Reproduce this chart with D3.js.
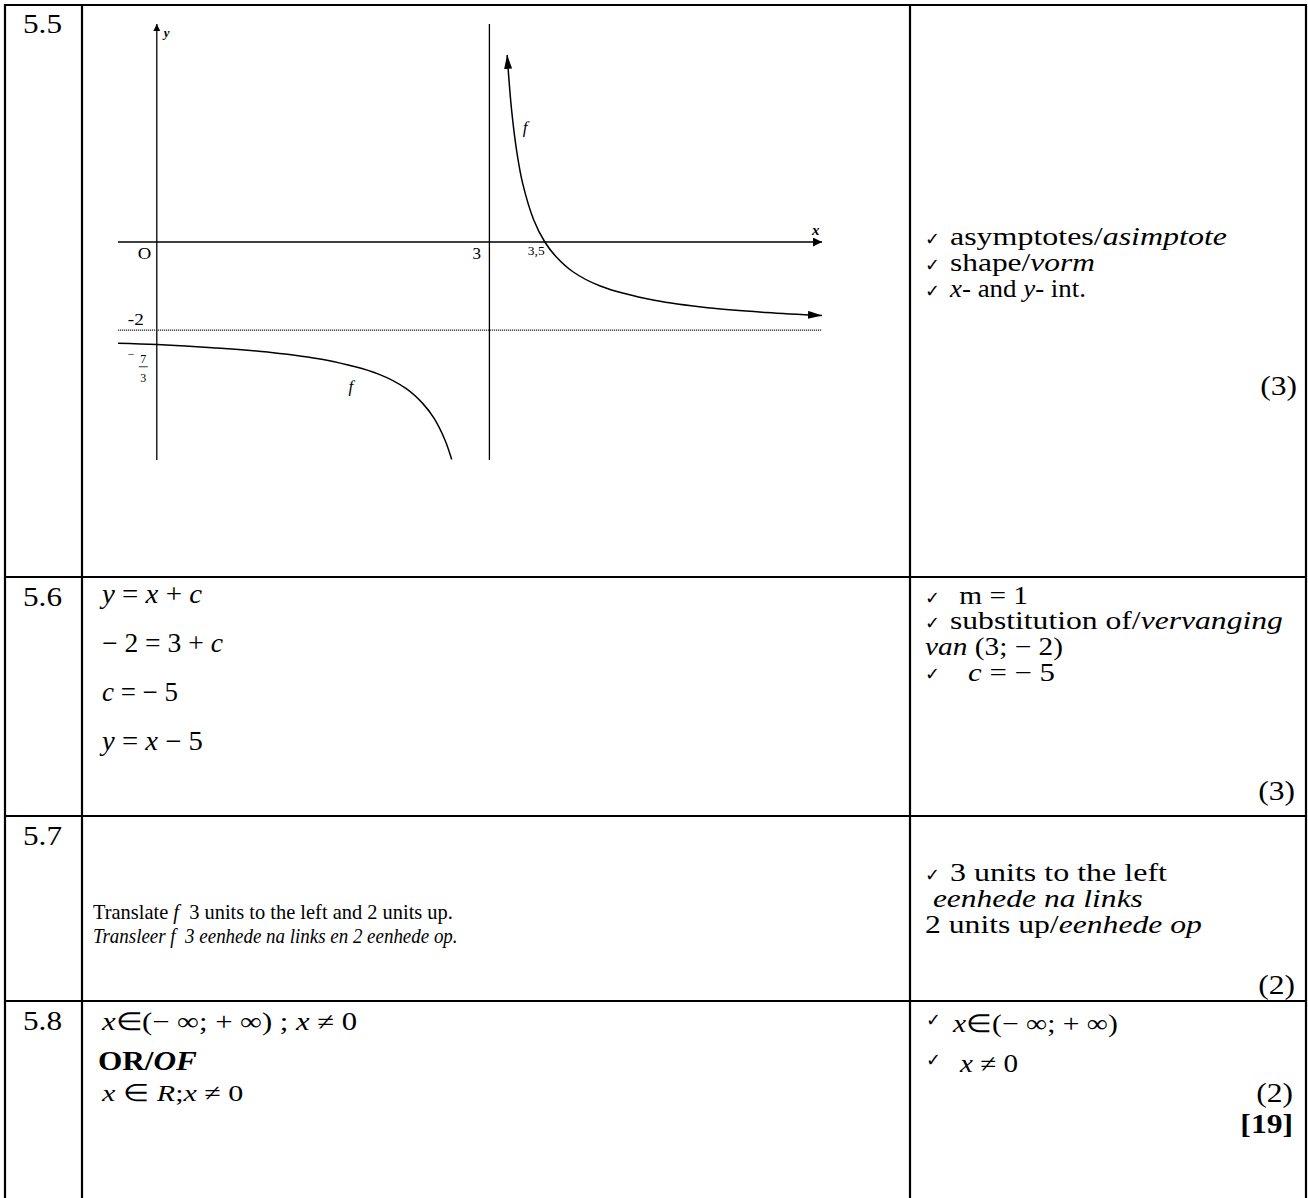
<!DOCTYPE html>
<html><head><meta charset="utf-8">
<script src="https://cdn.jsdelivr.net/npm/d3@7"></script>
<style>html,body{margin:0;padding:0;background:#fff;}svg{display:block;}</style>
</head><body>
<svg id="c" width="1308" height="1198"></svg>
<script>
// ---------- DATA ----------
const rowLabels = ["5.5", "5.6", "5.7", "5.8"];
// f(x) sketch: points (x, y)
const rightBranchX = [3.16, 3.2, 3.25, 3.3, 3.4, 3.5, 3.6, 3.75, 4.0, 4.5, 5.0, 5.5, 6.0];
const rightBranchY = [4.25, 3.0, 2.0, 1.33, 0.5, 0.0, -0.33, -0.67, -1.0, -1.33, -1.5, -1.6, -1.67];
const leftBranchX = [-0.35, 0.0, 0.5, 1.0, 1.5, 2.0, 2.25, 2.4, 2.5, 2.6, 2.66];
const leftBranchY = [-2.30, -2.33, -2.4, -2.5, -2.67, -3.0, -3.33, -3.67, -4.0, -4.5, -4.94];
const vAsymptote = 3;
const hAsymptote = -2;
const xTickValues = [0, 3, 3.5];
const xTickLabels = ["O", "3", "3,5"];
const yTickValues = [-2, -7/3];
const curveLabels = ["f", "f"];
const axisNames = ["x", "y"];
// text content
const marks55 = [
  [["asymptotes/", ""], ["asimptote", "i"]],
  [["shape/", ""], ["vorm", "i"]],
  [["x", "i"], ["- and ", ""], ["y", "i"], ["- int.", ""]]
];
const work56 = [
  [["y", "i"], [" = ", ""], ["x", "i"], [" + ", ""], ["c", "i"]],
  [["− 2 = 3 + ", ""], ["c", "i"]],
  [["c", "i"], [" = − 5", ""]],
  [["y", "i"], [" = ", ""], ["x", "i"], [" − 5", ""]]
];
const marks56 = [
  [[" m = 1", ""]],
  [["substitution of/", ""], ["vervanging", "i"]],
  [["van ", "i"], ["(3; − 2)", ""]],
  [["c", "i"], [" = − 5", ""]]
];
const work57 = [
  [["Translate ", ""], ["f", "i"], ["  3 units to the left and 2 units up.", ""]],
  [["Transleer f  3 eenhede na links en 2 eenhede op.", "i"]]
];
const marks57 = [
  [["3 units to the left", ""]],
  [[" eenhede na links", "i"]],
  [["2 units up/", ""], ["eenhede op", "i"]]
];
const work58 = [
  [["x", "i"], ["∈(− ∞; + ∞) ; ", ""], ["x", "i"], [" ≠ 0", ""]],
  [["OR/", "b"], ["OF", "bi"]],
  [["x", "i"], [" ∈ ", ""], ["R", "i"], [";", ""], ["x", "i"], [" ≠ 0", ""]]
];
const marks58 = [
  [["x", "i"], ["∈(− ∞; + ∞)", ""]],
  [["x", "i"], [" ≠ 0", ""]]
];
const marksTotals = ["(3)", "(3)", "(2)", "(2)", "[19]"];

// ---------- DRAW ----------
const svg = d3.select("#c");
const SERIF = "'Liberation Serif','Times New Roman',Times,serif";
const RS = 25; // right column font size

function put(x, y, parts, o = {}) {
  const t = svg.append("text")
    .attr("font-family", SERIF)
    .attr("font-size", o.size || 27)
    .attr("text-anchor", o.anchor || "start")
    .attr("fill", "#000");
  parts.forEach(([s, st]) => {
    const ts = t.append("tspan").text(s).style("white-space", "pre");
    if (st.includes("i")) ts.attr("font-style", "italic");
    if (st.includes("b")) ts.attr("font-weight", "bold");
  });
  t.attr("xml:space", "preserve");
  let sx = o.sx || 1;
  if (o.w) sx = o.w / t.node().getComputedTextLength();
  t.attr("transform", `translate(${x},${y}) scale(${sx},1)`);
  return t;
}
function check(x, y, size) {
  svg.append("text").attr("x", x).attr("y", y)
    .attr("font-family", "'DejaVu Sans',sans-serif")
    .attr("font-weight", "bold")
    .attr("font-size", size || 18).text("✓");
}

// table grid
const grid = svg.append("g").attr("stroke", "#000").attr("stroke-width", 2.2);
const colX = [5, 82, 910, 1306];
const rowY = [5, 577, 816, 1001];
colX.forEach(x => grid.append("line").attr("x1", x).attr("x2", x).attr("y1", 4).attr("y2", 1198));
rowY.forEach(y => grid.append("line").attr("x1", 4).attr("x2", 1307).attr("y1", y).attr("y2", y));

// row labels
[33, 606, 845, 1030].forEach((y, i) => put(23, y, [[rowLabels[i], ""]], { w: 39 }));

// ---------- graph ----------
const x = d3.scaleLinear().domain([-0.35, 6.0]).range([118, 822]);
const y = d3.scaleLinear().domain([-4.95, 4.95]).range([460, 24]);
const defs = svg.append("defs");
function marker(id, len, wid) {
  defs.append("marker").attr("id", id).attr("markerUnits", "userSpaceOnUse")
    .attr("viewBox", `0 0 ${len} ${wid}`).attr("refX", len).attr("refY", wid / 2)
    .attr("markerWidth", len).attr("markerHeight", wid).attr("orient", "auto-start-reverse")
    .append("path").attr("d", `M0,0L${len},${wid / 2}L0,${wid}Z`).attr("fill", "#000");
}
marker("axArrow", 9, 9);
marker("yArrow", 7, 7);
marker("cvArrow", 14, 8);

const gg = svg.append("g");
// axes
gg.append("line").attr("x1", x(-0.35)).attr("x2", x(6.0)).attr("y1", y(0)).attr("y2", y(0))
  .attr("stroke", "#000").attr("stroke-width", 1.3).attr("marker-end", "url(#axArrow)");
gg.append("line").attr("x1", x(0)).attr("x2", x(0)).attr("y1", y(-4.95)).attr("y2", y(4.95))
  .attr("stroke", "#000").attr("stroke-width", 1.3).attr("marker-end", "url(#yArrow)");
// asymptotes
gg.append("line").attr("x1", x(vAsymptote)).attr("x2", x(vAsymptote)).attr("y1", y(-4.95)).attr("y2", y(4.95))
  .attr("stroke", "#000").attr("stroke-width", 1.3);
gg.append("line").attr("x1", x(-0.35)).attr("x2", x(6.0)).attr("y1", y(hAsymptote)).attr("y2", y(hAsymptote))
  .attr("stroke", "#222").attr("stroke-width", 1.4).attr("stroke-dasharray", "1.2,0.8");

// curve
const lineGen = d3.line().x(d => x(d[0])).y(d => y(d[1])).curve(d3.curveCatmullRom.alpha(0.5));
const rb = rightBranchX.map((v, i) => [v, rightBranchY[i]]);
const lb = leftBranchX.map((v, i) => [v, leftBranchY[i]]);
gg.append("path").attr("d", lineGen(rb)).attr("fill", "none").attr("stroke", "#000").attr("stroke-width", 1.5)
  .attr("marker-start", "url(#cvArrow)").attr("marker-end", "url(#cvArrow)");
gg.append("path").attr("d", lineGen(lb)).attr("fill", "none").attr("stroke", "#000").attr("stroke-width", 1.5);

// tick labels
put(x(xTickValues[0]) - 19, y(0) + 17, [[xTickLabels[0], ""]], { size: 17, sx: 1.1 });
put(x(xTickValues[1]) - 17, y(0) + 17, [[xTickLabels[1], ""]], { size: 17, sx: 1.0 });
put(x(xTickValues[2]) - 17, y(0) + 13, [[xTickLabels[2], ""]], { size: 11.5, sx: 1.17 });
put(x(0) - 29, y(yTickValues[0]) - 5, [["-2", ""]], { size: 16, sx: 1.2 });
// -7/3 fraction
const fy = y(yTickValues[1]) + 22;
put(x(0) - 29, fy - 9, [["−", ""]], { size: 12 });
put(x(0) - 13.5, fy - 3.5, [["7", ""]], { size: 12, anchor: "middle" });
svg.append("line").attr("x1", x(0) - 18).attr("x2", x(0) - 9).attr("y1", fy).attr("y2", fy)
  .attr("stroke", "#000").attr("stroke-width", 0.8);
put(x(0) - 13.5, fy + 15, [["3", ""]], { size: 12, anchor: "middle" });
// axis names
put(x(0) + 7, y(4.95) + 13, [[axisNames[1], "bi"]], { size: 13 });
put(x(6.0) - 10, y(0) - 7, [[axisNames[0], "bi"]], { size: 15 });
// curve labels
put(x(3.3), 133, [[curveLabels[0], "i"]], { size: 17 });
put(x(1.73), 392, [[curveLabels[1], "i"]], { size: 17 });

// ---------- right column texts ----------
// 5.5
[245, 271, 297].forEach(yy => check(925, yy));
put(950, 245, marks55[0], { w: 277, size: RS });
put(950, 271, marks55[1], { w: 145, size: RS });
put(950, 297, marks55[2], { w: 136, size: RS });
put(1297, 395, [[marksTotals[0], ""]], { anchor: "end", sx: 1.17 });

// 5.6 working
put(102, 603, work56[0], { w: 100 });
put(102, 652, work56[1], { w: 121 });
put(102, 701, work56[2], { w: 76 });
put(102, 750, work56[3], { w: 101 });
// 5.6 marks
check(925, 604);
put(952, 604, marks56[0], { w: 76, size: RS });
check(925, 629);
put(950, 629, marks56[1], { w: 333, size: RS });
put(925, 655, marks56[2], { w: 138, size: RS });
check(925, 680);
put(968, 681, marks56[3], { w: 87, size: RS });
put(1295, 800, [[marksTotals[1], ""]], { anchor: "end", sx: 1.17 });

// 5.7
put(93, 919, work57[0], { w: 360, size: 22 });
put(93, 943, work57[1], { w: 365, size: 22 });
check(925, 881);
put(950, 881, marks57[0], { w: 217, size: RS });
put(925, 907, marks57[1], { w: 218, size: RS });
put(925, 933, marks57[2], { w: 277, size: RS });
put(1295, 994, [[marksTotals[2], ""]], { anchor: "end", sx: 1.17 });

// 5.8
put(102, 1030, work58[0], { w: 256, size: 25 });
put(98, 1070, work58[1], { w: 99 });
put(102, 1101, work58[2], { w: 141, size: 24 });
check(926, 1026);
put(953, 1032, marks58[0], { w: 165, size: 25 });
check(926, 1066);
put(960, 1072, marks58[1], { w: 58, size: 25 });
put(1293, 1102, [[marksTotals[3], ""]], { anchor: "end", sx: 1.17 });
put(1293, 1133, [[marksTotals[4], "b"]], { anchor: "end", sx: 1.17 });
</script>
</body></html>
